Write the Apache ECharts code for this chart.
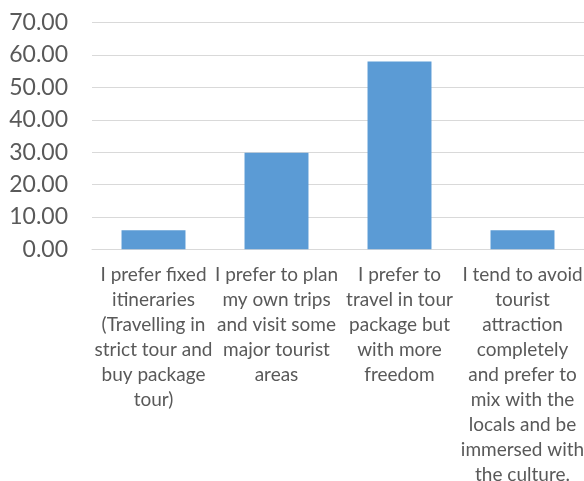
<!DOCTYPE html>
<html>
<head>
<meta charset="utf-8">
<script src="https://cdn.jsdelivr.net/npm/echarts@6/dist/echarts.min.js"></script>
<style>
html,body{margin:0;padding:0;background:#fff;}
#chart{width:584px;height:481px;}
</style>
</head>
<body>
<div id="chart"></div>
<script>
const categories = [
  "I prefer fixed\nitineraries\n(Travelling in\nstrict tour and\nbuy package\ntour)",
  "I prefer to plan\nmy own trips\nand visit some\nmajor tourist\nareas",
  "I prefer to\ntravel in tour\npackage but\nwith more\nfreedom",
  "I tend to avoid\ntourist\nattraction\ncompletely\nand prefer to\nmix with the\nlocals and be\nimmersed with\nthe culture."
];
const values = [5.9, 29.8, 58.0, 5.9];
const yMin = 0, yMax = 70, yStep = 10;

const chart = echarts.init(document.getElementById('chart'), null, {renderer: 'canvas'});
chart.setOption({
  animation: false,
  grid: {left: 92, right: 0, top: 22.7, bottom: 231.7, containLabel: false, outerBoundsMode: 'none'},
  xAxis: {
    type: 'category',
    data: categories,
    axisLine: {show: true, lineStyle: {color: '#d9d9d9', width: 1}},
    axisTick: {show: false},
    axisLabel: {
      interval: 0,
      color: '#595959',
      fontFamily: 'Lato',
      fontSize: 19,
      lineHeight: 25,
      align: 'center',
      margin: 13
    }
  },
  yAxis: {
    type: 'value',
    min: yMin, max: yMax, interval: yStep,
    axisLine: {show: false},
    axisTick: {show: false},
    splitLine: {lineStyle: {color: '#d9d9d9', width: 1}},
    axisLabel: {
      color: '#595959',
      fontFamily: 'Lato',
      fontSize: 23,
      margin: 24,
      formatter: v => v.toFixed(2)
    }
  },
  series: [{
    type: 'bar',
    data: values,
    barWidth: '52%',
    itemStyle: {color: '#5b9bd5'}
  }]
});
</script>
</body>
</html>
